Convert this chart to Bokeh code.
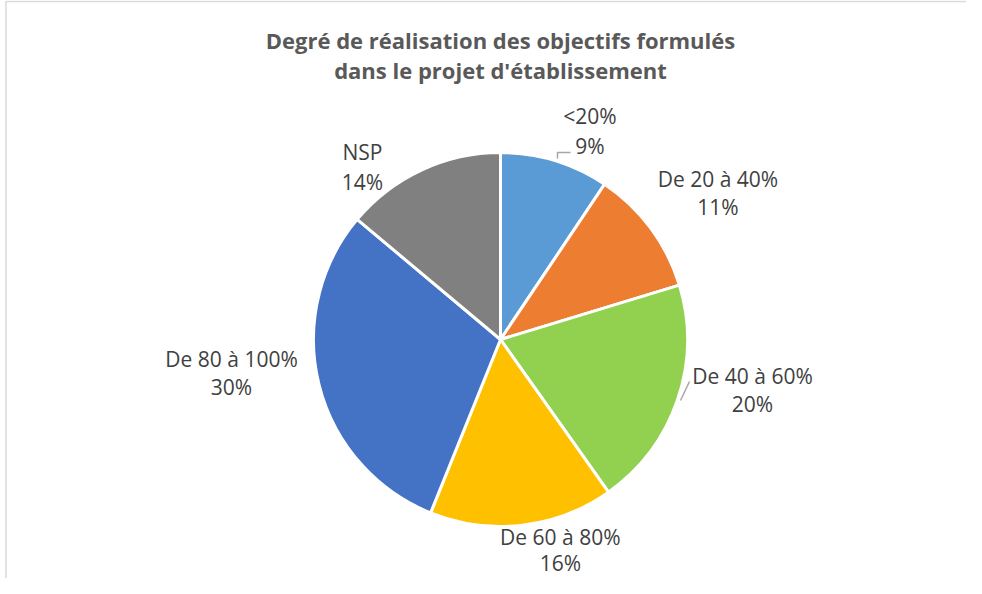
import math
from bokeh.plotting import figure
from bokeh.models import Range1d, ColumnDataSource
from bokeh.core.properties import value
from bokeh.embed import file_html
from bokeh.resources import INLINE

# ---- data ----
categories = ["<20%", "De 20 à 40%", "De 40 à 60%", "De 60 à 80%", "De 80 à 100%", "NSP"]
shares = [9.4, 10.9, 19.9, 15.9, 30.0, 13.9]
colors = ["#5B9BD5", "#ED7D31", "#92D050", "#FFC000", "#4472C4", "#808080"]
title_lines = ["Degré de réalisation des objectifs formulés", "dans le projet d'établissement"]

# ---- layout (screen pixels, y measured downward) ----
W, H = 966, 578
SHIFT = 6
CX, CY, R = 500, 345 - SHIFT, 187
# label placement: clockwise angle from top (deg) and distance from centre (px)
label_angle = [23.2, 56.1, 101.4, 164.1, 262.8, 321.4]
label_dist = [226.9, 262.0, 257.1, 218.4, 271.1, 221.3]
line_gap = [15, 14, 14, 13, 14, 15]

def sy(v):
    return H - v

p = figure(width=W, height=H, output_backend="svg", toolbar_location=None,
           x_range=Range1d(0, W), y_range=Range1d(0, H),
           min_border=0, outline_line_color=None)
p.axis.visible = False
p.grid.visible = False
p.background_fill_color = "white"
p.border_fill_color = "white"

# chart border (top and left)
p.line(x=[5, W], y=[sy(1), sy(1)], line_color="#D9D9D9", line_width=1.5)
p.line(x=[5.5, 5.5], y=[sy(1), sy(H)], line_color="#D9D9D9", line_width=1.5)

total = sum(shares)
starts, ends = [], []
cum = 0.0
for s in shares:
    starts.append(math.pi / 2 - 2 * math.pi * cum / total)
    cum += s
    ends.append(math.pi / 2 - 2 * math.pi * cum / total)

src = ColumnDataSource(dict(start=starts, end=ends, color=colors))
p.wedge(x=CX, y=sy(CY), radius=R, start_angle="start", end_angle="end",
        direction="clock", fill_color="color", line_color="white", line_width=3,
        source=src)

# labels
lx, ly, lt = [], [], []
for cat, s, a, d, g in zip(categories, shares, label_angle, label_dist, line_gap):
    ar = math.radians(a)
    x = CX + d * math.sin(ar)
    y = CY - d * math.cos(ar)
    lx += [x, x]
    ly += [sy(y - g), sy(y + g)]
    lt += [cat, f"{round(s)}%"]
p.text(x=lx, y=ly, text=lt, text_align="center", text_baseline="middle",
       text_font=value("Open Sans"), text_font_size="21px", text_color="#404040")

# leader lines
p.line(x=[557, 557, 570], y=[sy(164 - SHIFT), sy(158 - SHIFT), sy(158 - SHIFT)],
       line_color="#A6A6A6", line_width=1.5)
p.line(x=[680, 689], y=[sy(406 - SHIFT), sy(387 - SHIFT)], line_color="#A6A6A6", line_width=1.5)

# title
p.text(x=[500, 500], y=[sy(45 - SHIFT), sy(75 - SHIFT)], text=title_lines, text_align="center",
       text_baseline="middle", text_font=value("Open Sans"), text_font_style="bold",
       text_font_size="22px", text_color="#595959")

open("out.html", "w").write(file_html(p, INLINE))
